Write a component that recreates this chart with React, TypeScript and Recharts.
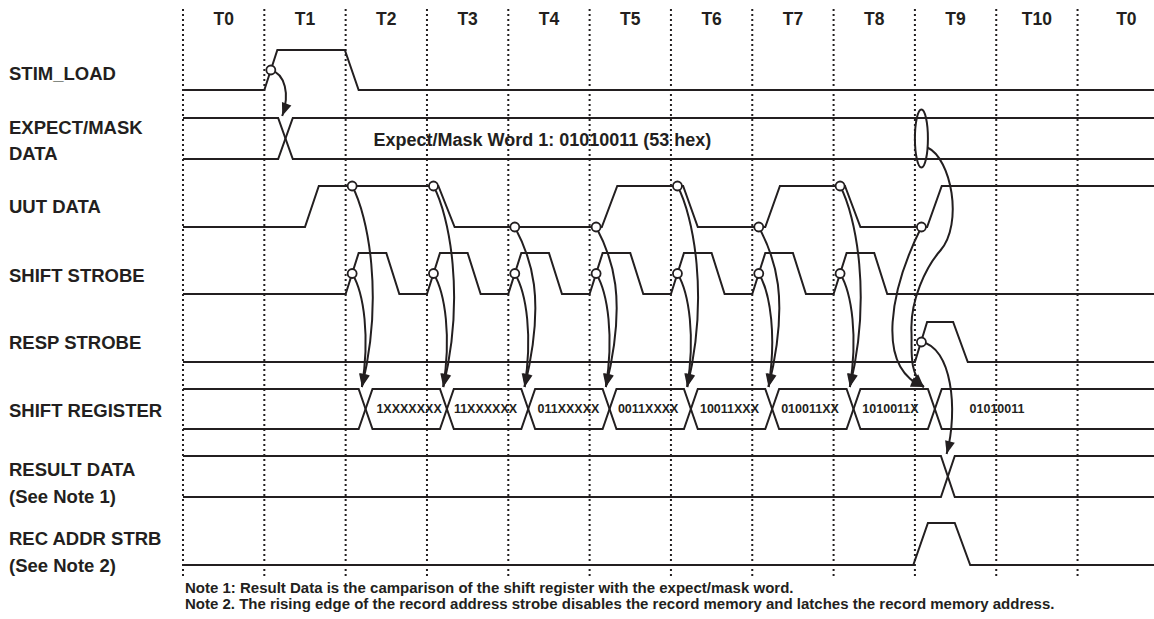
import React from 'react'
import { ComposedChart, Line, XAxis, YAxis, ReferenceLine, ReferenceDot } from 'recharts'

const INK = '#231f20'
const FONT = '"Liberation Sans", Arial, Helvetica, sans-serif'
const END = 11.94

// time axis in clock periods, T0 starts at 0
const periodLabels = ['T0', 'T1', 'T2', 'T3', 'T4', 'T5', 'T6', 'T7', 'T8', 'T9', 'T10', 'T0']
const periodLabelAt = [0.5, 1.5, 2.5, 3.5, 4.5, 5.5, 6.5, 7.5, 8.5, 9.5, 10.5, 11.6]
const periodEdges = [0, 1, 2, 3, 4, 5, 6, 7, 8, 9, 10, 11]

const signalNames = [
  ['STIM_LOAD'],
  ['EXPECT/MASK', 'DATA'],
  ['UUT DATA'],
  ['SHIFT STROBE'],
  ['RESP STROBE'],
  ['SHIFT REGISTER'],
  ['RESULT DATA', '(See Note 1)'],
  ['REC ADDR STRB', '(See Note 2)'],
]

// single bit waveforms: [time, level]
const stimLoad = [[0, 0], [1, 0], [1.16, 1], [1.99, 1], [2.16, 0], [END, 0]]
const uutData = [
  [0, 0], [1.5, 0], [1.67, 1], [3.14, 1], [3.34, 0], [5.15, 0], [5.34, 1], [6.15, 1],
  [6.33, 0], [7.16, 0], [7.34, 1], [8.14, 1], [8.33, 0], [9.15, 0], [9.33, 1], [END, 1],
]
const shiftStrobe = [
  [0, 0], [2, 0], [2.16, 1], [2.5, 1], [2.66, 0], [3, 0], [3.16, 1], [3.5, 1], [3.66, 0],
  [4, 0], [4.16, 1], [4.5, 1], [4.66, 0], [5, 0], [5.16, 1], [5.5, 1], [5.66, 0],
  [6, 0], [6.16, 1], [6.5, 1], [6.66, 0], [7, 0], [7.16, 1], [7.5, 1], [7.66, 0],
  [8, 0], [8.16, 1], [8.5, 1], [8.66, 0], [END, 0],
]
const respStrobe = [[0, 0], [9, 0], [9.15, 1], [9.47, 1], [9.65, 0], [END, 0]]
const recAddrStrb = [[0, 0], [8.98, 0], [9.16, 1], [9.49, 1], [9.68, 0], [END, 0]]

// bus crossings: [start, end]
const expectMaskEdges = [[1.17, 1.35]]
const shiftRegEdges = [
  [2.16, 2.33], [3.16, 3.33], [4.16, 4.33], [5.16, 5.33],
  [6.16, 6.33], [7.16, 7.33], [8.16, 8.33], [9.16, 9.33],
]
const resultEdges = [[9.32, 9.49]]

const expectMaskText = 'Expect/Mask Word 1: 01010011 (53 hex)'
const expectMaskTextAt = 4.42
const shiftRegValues = ['1XXXXXXX', '11XXXXXX', '011XXXXX', '0011XXXX', '10011XXX', '010011XX', '1010011X', '01010011']
const shiftRegValueAt = [2.78, 3.72, 4.74, 5.72, 6.72, 7.71, 8.7, 10.01]

// sampling points
const stimSampleAt = 1.08
const uutSampleAt = [2.08, 3.08, 4.08, 5.08, 6.08, 7.08, 8.08, 9.08]
const uutSampledBits = [1, 1, 0, 0, 1, 0, 1, 0]
const strobeSampleAt = [2.08, 3.08, 4.08, 5.08, 6.08, 7.08, 8.08]
const respSampleAt = 9.08
const maskCompareAt = 9.08

const notes = [
  'Note 1: Result Data is the camparison of the shift register with the expect/mask word.',
  'Note 2. The rising edge of the record address strobe disables the record memory and latches the record memory address.',
]

// layout of the rows (y in pixels)
const ROWS = [
  { hi: 50, lo: 90 },
  { hi: 118, lo: 159 },
  { hi: 186, lo: 227 },
  { hi: 253, lo: 294 },
  { hi: 322, lo: 362 },
  { hi: 389, lo: 429 },
  { hi: 456, lo: 497 },
  { hi: 523, lo: 565 },
]
const LABEL_Y = [[73], [127, 153], [206], [275], [342], [410], [469, 496], [538, 565]]
const labelTicks = LABEL_Y.flat()
const labelTexts = signalNames.flat()

const levelY = (row: number, v: number) => ROWS[row].hi + (ROWS[row].lo - ROWS[row].hi) * (1 - v)
const rowMid = (row: number) => (ROWS[row].hi + ROWS[row].lo) / 2

const toPts = (arr: number[][]) => arr.map(([t, v]) => ({ t, v }))

function busTracks(edges: number[][]) {
  const a = [{ t: 0, v: 1 }]
  const b = [{ t: 0, v: 0 }]
  let cur = 1
  edges.forEach(([s, e]) => {
    a.push({ t: s, v: cur }, { t: e, v: 1 - cur })
    b.push({ t: s, v: 1 - cur }, { t: e, v: cur })
    cur = 1 - cur
  })
  a.push({ t: END, v: cur })
  b.push({ t: END, v: 1 - cur })
  return [a, b]
}

const series: { row: number; data: { t: number; v: number }[] }[] = [
  { row: 0, data: toPts(stimLoad) },
  ...busTracks(expectMaskEdges).map((d) => ({ row: 1, data: d })),
  { row: 2, data: toPts(uutData) },
  { row: 3, data: toPts(shiftStrobe) },
  { row: 4, data: toPts(respStrobe) },
  ...busTracks(shiftRegEdges).map((d) => ({ row: 5, data: d })),
  ...busTracks(resultEdges).map((d) => ({ row: 6, data: d })),
  { row: 7, data: toPts(recAddrStrb) },
]

type End = { t: number; row: number; v: number }
type Arrow = { from: End; to: End; kind: string }

const arrows: Arrow[] = [
  { from: { t: stimSampleAt, row: 0, v: 0.5 }, to: { t: expectMaskEdges[0][0] + 0.05, row: 1, v: 1 }, kind: 'stim' },
  ...uutSampleAt.slice(0, 7).map((t, i) => ({
    from: { t, row: 2, v: uutSampledBits[i] },
    to: { t: shiftRegEdges[i][0] + 0.04, row: 5, v: 1 },
    kind: 'uut',
  })),
  ...strobeSampleAt.map((t, i) => ({
    from: { t, row: 3, v: 0.5 },
    to: { t: shiftRegEdges[i][0] + 0.04, row: 5, v: 1 },
    kind: 'strobe',
  })),
  { from: { t: uutSampleAt[7], row: 2, v: uutSampledBits[7] }, to: { t: shiftRegEdges[7][0] - 0.05, row: 5, v: 1 }, kind: 'late' },
  { from: { t: maskCompareAt, row: 1, v: 0.5 }, to: { t: shiftRegEdges[7][0] - 0.05, row: 5, v: 1 }, kind: 'mask' },
  { from: { t: respSampleAt, row: 4, v: 0.5 }, to: { t: resultEdges[0][0] + 0.07, row: 6, v: 1 }, kind: 'resp' },
]

function ArrowShape(props: any) {
  const { x1, y1, x2, kind } = props
  const y2 = props.y2 - 2
  let d = ''
  let cx = x1
  let cy = y1
  if (kind === 'mask') {
    cx = x2 - 16
    cy = y2 - 16
    d = `M${x1 + 6},${y1 + 9} C${x1 + 30},${y1 + 20} ${x1 + 42},${y1 + 85} ${x1 + 19},${y1 + 112}` +
      ` C${x1 + 4},${y1 + 129} ${x1 - 11},${y1 + 162} ${x1 - 10},${y1 + 192}` +
      ` C${x1 - 9},${y1 + 210} ${cx},${cy} ${x2},${y2}`
  } else {
    const c: Record<string, number[]> = {
      stim: [14, 4, 8, -22],
      uut: [16, 30, 22, -90],
      strobe: [12, 20, 8, -50],
      late: [-30, 60, -50, -20],
      resp: [30, 5, 12, -45],
    }
    const [a, b, e, f] = c[kind]
    cx = x2 + e
    cy = y2 + f
    d = `M${x1},${y1} C${x1 + a},${y1 + b} ${cx},${cy} ${x2},${y2}`
  }
  const ang = Math.atan2(y2 - cy, x2 - cx)
  const len = 13
  const hw = 5
  const bx = x2 - len * Math.cos(ang)
  const by = y2 - len * Math.sin(ang)
  const px = -Math.sin(ang) * hw
  const py = Math.cos(ang) * hw
  return (
    <g>
      <path d={d} fill="none" stroke={INK} strokeWidth={2} />
      <polygon points={`${x2},${y2} ${bx + px},${by + py} ${bx - px},${by - py}`} fill={INK} />
      {kind === 'mask' ? (
        <ellipse cx={x1} cy={y1} rx={6.5} ry={29} fill="none" stroke={INK} strokeWidth={2} />
      ) : (
        <circle cx={x1} cy={y1} r={4.5} fill="#fff" stroke={INK} strokeWidth={1.8} />
      )}
    </g>
  )
}

const HeaderTick = (props: any) => {
  const i = periodLabelAt.indexOf(props.payload.value)
  return (
    <text x={props.x} y={19} textAnchor="middle" dominantBaseline="central" fontFamily={FONT} fontWeight="bold" fontSize={17.5} fill={INK}>
      {periodLabels[i]}
    </text>
  )
}

const RowLabel = (props: any) => {
  const i = labelTicks.indexOf(props.payload.value)
  return (
    <text x={9} y={props.y} textAnchor="start" dominantBaseline="central" fontFamily={FONT} fontWeight="bold" fontSize={18.5} fill={INK}>
      {labelTexts[i]}
    </text>
  )
}

const busText = (text: string, size: number) => (p: any) => (
  <text x={p.cx} y={p.cy} textAnchor="middle" dominantBaseline="central" fontFamily={FONT} fontWeight="bold" fontSize={size} fill={INK}>
    {text}
  </text>
)

export default function App() {
  return (
    <div style={{ position: 'relative', width: 1154, height: 619, background: '#fff' }}>
      <style>{'body{margin:0}'}</style>
      <ComposedChart width={1154} height={578} margin={{ top: 0, right: 0, bottom: 0, left: 0 }}>
        <XAxis
          type="number"
          dataKey="t"
          domain={[0, END]}
          allowDataOverflow
          orientation="top"
          height={9}
          ticks={periodLabelAt}
          interval={0}
          tick={<HeaderTick />}
          axisLine={false}
          tickLine={false}
        />
        <YAxis
          type="number"
          domain={[9, 578]}
          allowDataOverflow
          reversed
          width={183}
          ticks={labelTicks}
          interval={0}
          tick={<RowLabel />}
          axisLine={false}
          tickLine={false}
        />
        {periodEdges.map((e) => (
          <ReferenceLine key={`edge-${e}`} x={e} stroke={INK} strokeWidth={2} strokeDasharray="2 3" />
        ))}
        {series.map((s, i) => (
          <Line
            key={`sig-${i}`}
            data={s.data}
            dataKey={(d: any) => levelY(s.row, d.v)}
            type="linear"
            stroke={INK}
            strokeWidth={2}
            dot={false}
            activeDot={false}
            isAnimationActive={false}
          />
        ))}
        <ReferenceDot x={expectMaskTextAt} y={rowMid(1) + 1} shape={busText(expectMaskText, 18)} />
        {shiftRegValues.map((v, i) => (
          <ReferenceDot key={`sr-${i}`} x={shiftRegValueAt[i]} y={rowMid(5)} shape={busText(v, 12.5)} />
        ))}
        {arrows.map((a, i) => (
          <ReferenceLine
            key={`arrow-${i}`}
            ifOverflow="visible"
            segment={[
              { x: a.from.t, y: levelY(a.from.row, a.from.v) },
              { x: a.to.t, y: levelY(a.to.row, a.to.v) },
            ]}
            shape={(p: any) => <ArrowShape {...p} kind={a.kind} />}
          />
        ))}
      </ComposedChart>
      <div
        style={{
          position: 'absolute',
          left: 185,
          top: 580,
          fontFamily: FONT,
          fontWeight: 'bold',
          fontSize: 15,
          lineHeight: '16px',
          color: INK,
          whiteSpace: 'nowrap',
        }}
      >
        {notes.map((n) => (
          <div key={n}>{n}</div>
        ))}
      </div>
    </div>
  )
}
